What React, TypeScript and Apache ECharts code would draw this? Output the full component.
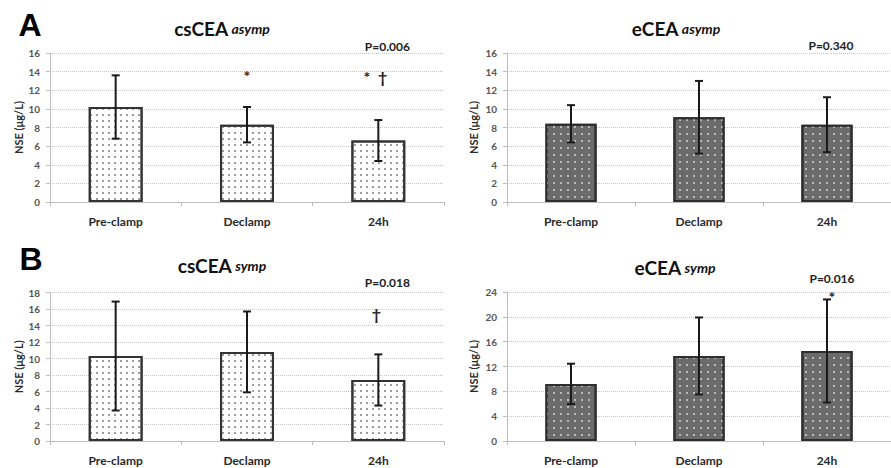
import React, { useEffect, useRef } from 'react';
import * as echarts from 'echarts';

const categories = ['Pre-clamp', 'Declamp', '24h'];

const csAsympMean = [10.2, 8.3, 6.6];
const csAsympSD = [3.4, 1.9, 2.2];
const eAsympMean = [8.4, 9.1, 8.3];
const eAsympSD = [2.0, 3.9, 2.95];
const csSympMean = [10.3, 10.8, 7.4];
const csSympSD = [6.6, 4.9, 3.1];
const eSympMean = [9.2, 13.7, 14.5];
const eSympSD = [3.25, 6.2, 8.3];

const panelTitles = ['csCEA', 'eCEA', 'csCEA', 'eCEA'];
const panelSubtitles = ['asymp', 'asymp', 'symp', 'symp'];
const panelLetters = ['A', 'B'];
const yMaxes = [16, 16, 18, 24];
const yIntervals = [2, 2, 2, 4];
const pValues = ['P=0.006', 'P=0.340', 'P=0.018', 'P=0.016'];
const yAxisName = 'NSE (μg/L)';

// significance markers
const csAsympMarkCats = [1, 2];
const csAsympMarkValues = [14, 13.9];
const csAsympMarkTexts = ['*', '*  †'];
const eAsympMarkCats: number[] = [];
const eAsympMarkValues: number[] = [];
const eAsympMarkTexts: string[] = [];
const csSympMarkCats = [2];
const csSympMarkValues = [16];
const csSympMarkTexts = ['†'];
const eSympMarkCats = [2];
const eSympMarkValues = [24];
const eSympMarkTexts = ['*'];

const FONT = 'Lato, "Open Sans", sans-serif';

const panels = [
  { mean: csAsympMean, sd: csAsympSD, mc: csAsympMarkCats, mv: csAsympMarkValues, mt: csAsympMarkTexts },
  { mean: eAsympMean, sd: eAsympSD, mc: eAsympMarkCats, mv: eAsympMarkValues, mt: eAsympMarkTexts },
  { mean: csSympMean, sd: csSympSD, mc: csSympMarkCats, mv: csSympMarkValues, mt: csSympMarkTexts },
  { mean: eSympMean, sd: eSympSD, mc: eSympMarkCats, mv: eSympMarkValues, mt: eSympMarkTexts },
];

// layout (pixels)
const GRIDS = [
  { left: 50, top: 53, width: 394, height: 149 },
  { left: 507, top: 53, width: 387, height: 149 },
  { left: 50, top: 292.5, width: 394, height: 148.5 },
  { left: 507, top: 292, width: 387, height: 149 },
];
const TITLE_POS = [
  [222, 28],
  [676, 28],
  [222, 265],
  [675, 267],
];
const LETTER_POS = [
  [30, 25],
  [31, 259],
];
const P_OFFSET = [
  [9, -7],
  [4, -8],
  [9, -10],
  [5, -14],
];
const MARK_DX = [
  [0, -3],
  [],
  [-2],
  [5],
];

const errRender = (params: any, api: any) => {
  const c = api.value(0);
  const m = api.value(1);
  const s = api.value(2);
  const top = api.coord([c, m + s]);
  const bot = api.coord([c, m - s]);
  const w = 4;
  const style = { stroke: '#1a1a1a', lineWidth: 2 };
  return {
    type: 'group',
    children: [
      { type: 'line', shape: { x1: top[0], y1: top[1], x2: bot[0], y2: bot[1] }, style },
      { type: 'line', shape: { x1: top[0] - w, y1: top[1], x2: top[0] + w, y2: top[1] }, style },
      { type: 'line', shape: { x1: bot[0] - w, y1: bot[1], x2: bot[0] + w, y2: bot[1] }, style },
    ],
  };
};

const textRender = (texts: string[], dxs: number[], dy: number, size: number) => (params: any, api: any) => {
  const p = api.coord([api.value(0), api.value(1)]);
  return {
    type: 'text',
    x: p[0] + (dxs[params.dataIndex] || 0),
    y: p[1] + dy,
    style: {
      text: texts[params.dataIndex],
      fontFamily: FONT,
      fontWeight: 'bold',
      fontSize: size,
      fill: '#222',
      align: 'center',
      verticalAlign: 'middle',
    },
  };
};

function buildOption() {
  const grid: any[] = [];
  const xAxis: any[] = [];
  const yAxis: any[] = [];
  const series: any[] = [];
  const graphic: any[] = [];

  panels.forEach((pn, i) => {
    const right = i % 2 === 1;
    grid.push({ ...GRIDS[i], containLabel: false });
    xAxis.push({
      type: 'category',
      gridIndex: i,
      data: categories,
      axisLine: { show: true, lineStyle: { color: '#bdbdbd', width: 1 } },
      axisTick: { show: true, length: 4, lineStyle: { color: '#bdbdbd' } },
      axisLabel: {
        margin: 13,
        fontFamily: FONT,
        fontWeight: 'bold',
        fontSize: 12,
        color: '#2a2a2a',
      },
      splitLine: { show: false },
    });
    yAxis.push({
      type: 'value',
      gridIndex: i,
      min: 0,
      max: yMaxes[i],
      interval: yIntervals[i],
      name: yAxisName,
      nameLocation: 'middle',
      nameGap: right ? 28 : 26,
      nameTextStyle: { fontFamily: FONT, fontWeight: 'bold', fontSize: 11, color: '#2a2a2a' },
      axisLine: { show: true, lineStyle: { color: '#bdbdbd', width: 1 } },
      axisTick: { show: true, length: 4, lineStyle: { color: '#bdbdbd' } },
      axisLabel: { margin: 10, fontFamily: FONT, fontWeight: 'bold', fontSize: 10, color: '#555' },
      splitLine: { show: true, lineStyle: { color: '#c4c4c4', type: 'dotted', width: 1 } },
    });

    const itemStyle = right
      ? {
          color: '#6b6b6b',
          borderColor: '#2e2e2e',
          borderWidth: 2,
          decal: {
            symbol: 'circle',
            symbolSize: 0.8,
            color: '#e6e6e6',
            dashArrayX: [[2, 5]],
            dashArrayY: [2, 5],
          },
        }
      : {
          color: '#ffffff',
          borderColor: '#333',
          borderWidth: 2,
          decal: {
            symbol: 'circle',
            symbolSize: 0.8,
            color: '#666',
            dashArrayX: [[2, 4]],
            dashArrayY: [2, 4],
          },
        };

    series.push({
      type: 'bar',
      xAxisIndex: i,
      yAxisIndex: i,
      data: pn.mean,
      barWidth: right ? '40%' : '41%',
      itemStyle,
      silent: true,
    });
    series.push({
      type: 'custom',
      xAxisIndex: i,
      yAxisIndex: i,
      renderItem: errRender,
      data: pn.mean.map((m, k) => [k, m, pn.sd[k]]),
      z: 5,
      silent: true,
    });
    series.push({
      type: 'custom',
      xAxisIndex: i,
      yAxisIndex: i,
      renderItem: textRender([pValues[i]], [P_OFFSET[i][0]], P_OFFSET[i][1], 12),
      data: [[2, yMaxes[i]]],
      z: 6,
      silent: true,
    });
    if (pn.mc.length) {
      series.push({
        type: 'custom',
        xAxisIndex: i,
        yAxisIndex: i,
        renderItem: textRender(pn.mt, MARK_DX[i] as number[], 4, 16),
        data: pn.mc.map((c, k) => [c, pn.mv[k]]),
        z: 6,
        silent: true,
      });
    }

    graphic.push({
      type: 'text',
      x: TITLE_POS[i][0],
      y: TITLE_POS[i][1],
      style: {
        text: `{a|${panelTitles[i]}} {b|${panelSubtitles[i]}}`,
        align: 'center',
        verticalAlign: 'middle',
        rich: {
          a: { fontFamily: FONT, fontWeight: 'bold', fontSize: 19, fill: '#111' },
          b: { fontFamily: FONT, fontWeight: 'bold', fontStyle: 'italic', fontSize: 14, fill: '#111' },
        },
      },
    });
  });

  panelLetters.forEach((l, k) => {
    graphic.push({
      type: 'text',
      x: LETTER_POS[k][0],
      y: LETTER_POS[k][1],
      style: {
        text: l,
        fontFamily: '"Liberation Sans", Arial, sans-serif',
        fontWeight: 'bold',
        fontSize: 32,
        fill: '#000',
        align: 'center',
        verticalAlign: 'middle',
      },
    });
  });

  return {
    animation: false,
    backgroundColor: '#ffffff',
    grid,
    xAxis,
    yAxis,
    series,
    graphic,
  };
}

export default function App() {
  const ref = useRef<HTMLDivElement>(null);
  useEffect(() => {
    if (!ref.current) return;
    const chart = echarts.init(ref.current, undefined, { renderer: 'svg' });
    chart.setOption(buildOption() as any);
    return () => chart.dispose();
  }, []);
  return (
    <div
      ref={ref}
      style={{ position: 'absolute', left: 0, top: 0, width: 891, height: 468, background: '#fff' }}
    />
  );
}
